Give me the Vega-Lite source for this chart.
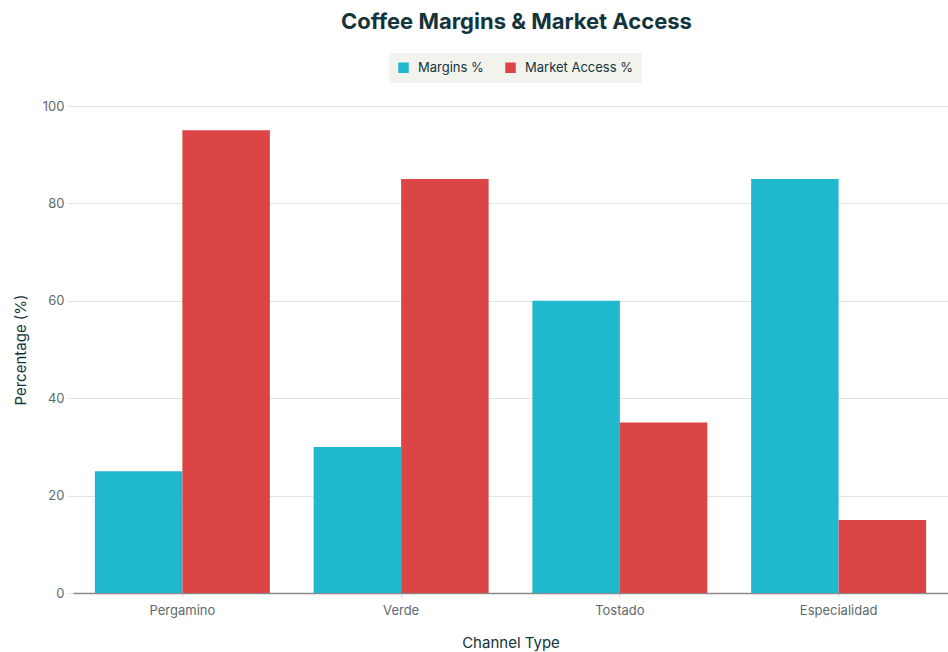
{
  "$schema": "https://vega.github.io/schema/vega-lite/v6.json",
  "width": 875,
  "height": 487,
  "autosize": {"type": "none"},
  "padding": {"left": 73, "top": 106, "right": 0, "bottom": 59},
  "background": "white",
  "config": {
    "font": "Inter",
    "view": {"stroke": null}
  },
  "title": {
    "text": "Coffee Margins & Market Access",
    "fontSize": 22,
    "fontWeight": "bold",
    "color": "#13343B",
    "anchor": "middle",
    "dx": 6,
    "offset": 19
  },
  "data": {
    "values": [
      {"channel": "Pergamino", "series": "Margins %", "value": 25},
      {"channel": "Pergamino", "series": "Market Access %", "value": 95},
      {"channel": "Verde", "series": "Margins %", "value": 30},
      {"channel": "Verde", "series": "Market Access %", "value": 85},
      {"channel": "Tostado", "series": "Margins %", "value": 60},
      {"channel": "Tostado", "series": "Market Access %", "value": 35},
      {"channel": "Especialidad", "series": "Margins %", "value": 85},
      {"channel": "Especialidad", "series": "Market Access %", "value": 15}
    ]
  },
  "mark": {"type": "bar"},
  "encoding": {
    "x": {
      "field": "channel",
      "type": "nominal",
      "sort": ["Pergamino", "Verde", "Tostado", "Especialidad"],
      "scale": {"paddingInner": 0.2, "paddingOuter": 0.1},
      "axis": {
        "title": "Channel Type",
        "titleFontSize": 15,
        "titleFontWeight": "normal",
        "titleColor": "#13343B",
        "titlePadding": 18,
        "labelAngle": 0,
        "labelFontSize": 13,
        "labelColor": "#5D6A6E",
        "labelPadding": 6,
        "domainColor": "#8A8A8A",
        "domainWidth": 1.5,
        "tickColor": "#E0E0E0",
        "tickSize": 5,
        "grid": false
      }
    },
    "xOffset": {"field": "series", "type": "nominal"},
    "y": {
      "field": "value",
      "type": "quantitative",
      "scale": {"domain": [0, 100]},
      "axis": {
        "title": "Percentage (%)",
        "titleFontSize": 15,
        "titleFontWeight": "normal",
        "titleColor": "#13343B",
        "titlePadding": 14,
        "values": [0, 20, 40, 60, 80, 100],
        "labelFontSize": 13,
        "labelColor": "#5D6A6E",
        "labelPadding": 4,
        "domain": false,
        "tickColor": "#E0E0E0",
        "tickSize": 5,
        "gridColor": "#E2E2E2"
      }
    },
    "color": {
      "field": "series",
      "type": "nominal",
      "scale": {"domain": ["Margins %", "Market Access %"], "range": ["#1FB8CD", "#DB4545"]},
      "legend": {
        "title": null,
        "orient": "none",
        "legendX": 316,
        "legendY": -53,
        "direction": "horizontal",
        "fillColor": "#F3F3EE",
        "padding": 8,
        "symbolType": "square",
        "symbolSize": 110,
        "symbolStrokeWidth": 0,
        "labelFontSize": 13,
        "labelColor": "#13343B",
        "labelOffset": 8,
        "columnPadding": 20
      }
    }
  }
}
